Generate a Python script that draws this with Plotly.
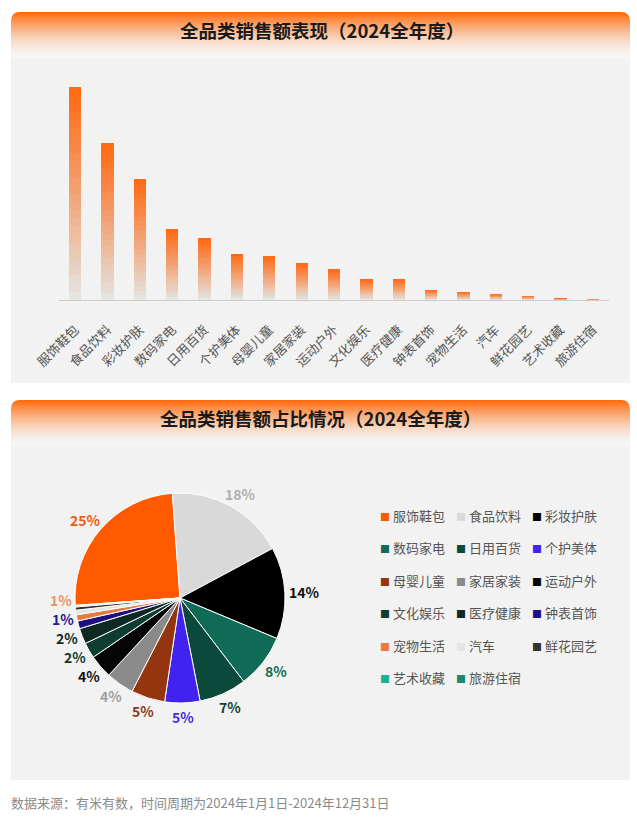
import math
import plotly.graph_objects as go

# ---------------- data ----------------
categories = ["服饰鞋包", "食品饮料", "彩妆护肤", "数码家电", "日用百货", "个护美体",
              "母婴儿童", "家居家装", "运动户外", "文化娱乐", "医疗健康", "钟表首饰",
              "宠物生活", "汽车", "鲜花园艺", "艺术收藏", "旅游住宿"]
sales_share = [24.9, 18.3, 14.1, 8.3, 7.3, 5.4, 5.2, 4.3, 3.6, 2.4, 2.4, 1.2,
               0.95, 0.7, 0.5, 0.15, 0.1]
slice_colors = ["#ff5a00", "#d9d9d9", "#000000", "#0f6b55", "#0b4a3a", "#4222ee",
                "#953510", "#8a8a8a", "#050505", "#0c3d30", "#0e2a23", "#1f0f80",
                "#e8793f", "#e6e6e6", "#333333", "#1fb090", "#188a6b"]
label_colors = ["#f05a14", "#b0b0b0", "#111111", "#136b52", "#0d4536", "#4a2ae0",
                "#8a3a1a", "#a0a0a0", "#111111", "#0d3b2f", "#0f2b24", "#2a1a8a",
                "#e8956a", "#e6e6e6", "#333333", "#1fb090", "#188a6b"]
label_min_share = 0.9   # slices below this share carry no label

title_bar = "全品类销售额表现（2024全年度）"
title_pie = "全品类销售额占比情况（2024全年度）"
footer = "数据来源：有米有数，时间周期为2024年1月1日-2024年12月31日"

# ---------------- geometry helpers (page is 637 x 822) ----------------
W, H = 637, 822
def X(px): return px / W
def Y(py): return 1 - py / H

FONT = "Noto Sans CJK SC"
bar_color = "#ff6a13"
panel = "#f2f2f2"

fig = go.Figure()

# ---------------- bar chart with vertical fade ----------------
bw = 0.38
fig.add_trace(go.Bar(x=categories, y=sales_share, width=bw,
                     marker=dict(color=bar_color, line_width=0),
                     showlegend=False, hovertemplate="%{x}: %{y}<extra></extra>"))
N = 26
for j in range(1, N):
    fig.add_trace(go.Bar(x=categories, y=[v * j / N for v in sales_share], width=bw,
                         marker=dict(color=f"rgba(242,242,242,{1/(j+1):.4f})", line_width=0),
                         showlegend=False, hoverinfo="skip"))

# ---------------- pie ----------------
pie_left, pie_right, pie_top, pie_bottom = 75, 285, 493, 703
pie_rotation = -94
fig.add_trace(go.Pie(labels=categories, values=sales_share, sort=False,
                     direction="clockwise", rotation=pie_rotation,
                     marker=dict(colors=slice_colors, line=dict(color="white", width=1)),
                     textinfo="none",
                     domain=dict(x=[X(pie_left), X(pie_right)], y=[Y(pie_bottom), Y(pie_top)]),
                     showlegend=False, hoverinfo="label+percent"))

# outside percentage labels placed from the pie's own geometry
cx, cy = (pie_left + pie_right) / 2, (pie_top + pie_bottom) / 2
rad = min(pie_right - pie_left, pie_bottom - pie_top) / 2
total = sum(sales_share)
pie_labels = []
cum = 0.0
for v, col in zip(sales_share, label_colors):
    mid = math.radians(pie_rotation + 360 * (cum + v / 2) / total)
    cum += v
    if v < label_min_share:
        continue
    txt = f"{round(100 * v / total)}%"
    w, h = 7.7 * (len(txt) - 1) + 12, 16
    ux, uy = math.sin(mid), -math.cos(mid)
    px = cx + ux * (rad + 6) + ux * w / 2
    py = cy + uy * (rad + 6) + uy * h / 2
    pie_labels.append([px, py, txt, col, w])
# simple de-overlap on the left side (push upward)
min_gap = 19
left = sorted([l for l in pie_labels if l[0] < cx], key=lambda l: -l[1])
for a, b in zip(left, left[1:]):
    if abs(a[0] - b[0]) < 24 and a[1] - b[1] < min_gap:
        b[1] = a[1] - min_gap

# ---------------- legend (3 columns) ----------------
legend_names = ["legend", "legend2", "legend3"]
for i, (cat, col) in enumerate(zip(categories, slice_colors)):
    fig.add_trace(go.Scatter(
        x=[None], y=[None], mode="lines",
        line=dict(color="rgba(0,0,0,0)", width=0),
        name=f'<span style="color:{col};font-size:10px">■</span> {cat}',
        legend=legend_names[i % 3], legendgroup=cat, showlegend=True, hoverinfo="skip"))

legend_common = dict(orientation="v", xanchor="left", yanchor="top", y=Y(501),
                     font=dict(family=FONT, size=13, color="#555555"),
                     bgcolor="rgba(0,0,0,0)", tracegroupgap=12.5,
                     itemclick=False, itemdoubleclick=False)

# ---------------- decorations ----------------
shapes = []
def panel_block(y0, y1):
    shapes.append(dict(type="rect", xref="paper", yref="paper", layer="below",
                       x0=X(11), x1=X(630), y0=Y(y1), y1=Y(y0),
                       fillcolor=panel, line_width=0))
    top, hgt = y0, 46
    for k in range(hgt):
        t = k / (hgt - 1)
        f = (1 - t) ** 1.6
        r = round(255 * f + 246 * (1 - f))
        g = round(106 * f + 246 * (1 - f))
        b = round(10 * f + 246 * (1 - f))
        shapes.append(dict(type="rect", xref="paper", yref="paper", layer="below",
                           x0=X(11), x1=X(630), y0=Y(top + k + 1.05), y1=Y(top + k),
                           fillcolor=f"rgb({r},{g},{b})", line_width=0))
    rx, ry = 9 / W, 9 / H
    xl, xr, yt = X(11), X(630), Y(top)
    shapes.append(dict(type="path", xref="paper", yref="paper", layer="below",
                       path=f"M {xl-0.001},{yt+0.001} L {xl+rx},{yt+0.001} L {xl+rx},{yt} Q {xl},{yt} {xl},{yt-ry} L {xl-0.001},{yt-ry} Z",
                       fillcolor="white", line_width=0))
    shapes.append(dict(type="path", xref="paper", yref="paper", layer="below",
                       path=f"M {xr+0.001},{yt+0.001} L {xr-rx},{yt+0.001} L {xr-rx},{yt} Q {xr},{yt} {xr},{yt-ry} L {xr+0.001},{yt-ry} Z",
                       fillcolor="white", line_width=0))

panel_block(12, 383)
panel_block(400, 780)

annotations = [
    dict(text=f"<b>{title_bar}</b>", x=X(322), y=Y(30), xref="paper", yref="paper",
         xanchor="center", yanchor="middle",
         showarrow=False, font=dict(family=FONT, size=18.5, color="#1a1a1a")),
    dict(text=f"<b>{title_pie}</b>", x=X(320), y=Y(418), xref="paper", yref="paper",
         xanchor="center", yanchor="middle",
         showarrow=False, font=dict(family=FONT, size=18.5, color="#1a1a1a")),
    dict(text=footer, x=X(9), y=Y(802), xref="paper", yref="paper",
         xanchor="left", yanchor="middle",
         showarrow=False, font=dict(family=FONT, size=13, color="#8a8a8a")),
]
for px, py, txt, col, w in pie_labels:
    annotations.append(dict(text=f"<b>{txt}</b>", x=X(px), y=Y(py), xref="paper", yref="paper",
                            xanchor="center", yanchor="middle", showarrow=False,
                            font=dict(family=FONT, size=14, color=col)))

fig.update_layout(
    width=W, height=H, margin=dict(l=0, r=0, t=0, b=0),
    paper_bgcolor="white", plot_bgcolor="rgba(0,0,0,0)",
    barmode="overlay", bargap=0,
    font=dict(family=FONT),
    xaxis=dict(domain=[X(59), X(609)], range=[-0.5, len(categories) - 0.5],
               showline=True, linecolor="#cccccc", linewidth=1, showgrid=False,
               zeroline=False, tickangle=-45, ticks="outside", ticklen=16,
               tickcolor="rgba(0,0,0,0)", automargin=False,
               tickfont=dict(family=FONT, size=13, color="#555555")),
    yaxis=dict(domain=[Y(300), Y(75)], range=[0, max(sales_share) * 225 / 213],
               visible=False, fixedrange=True),
    legend=dict(legend_common, x=X(340)),
    legend2=dict(legend_common, x=X(416)),
    legend3=dict(legend_common, x=X(492)),
    shapes=shapes, annotations=annotations,
)

fig.write_html("out.html")
